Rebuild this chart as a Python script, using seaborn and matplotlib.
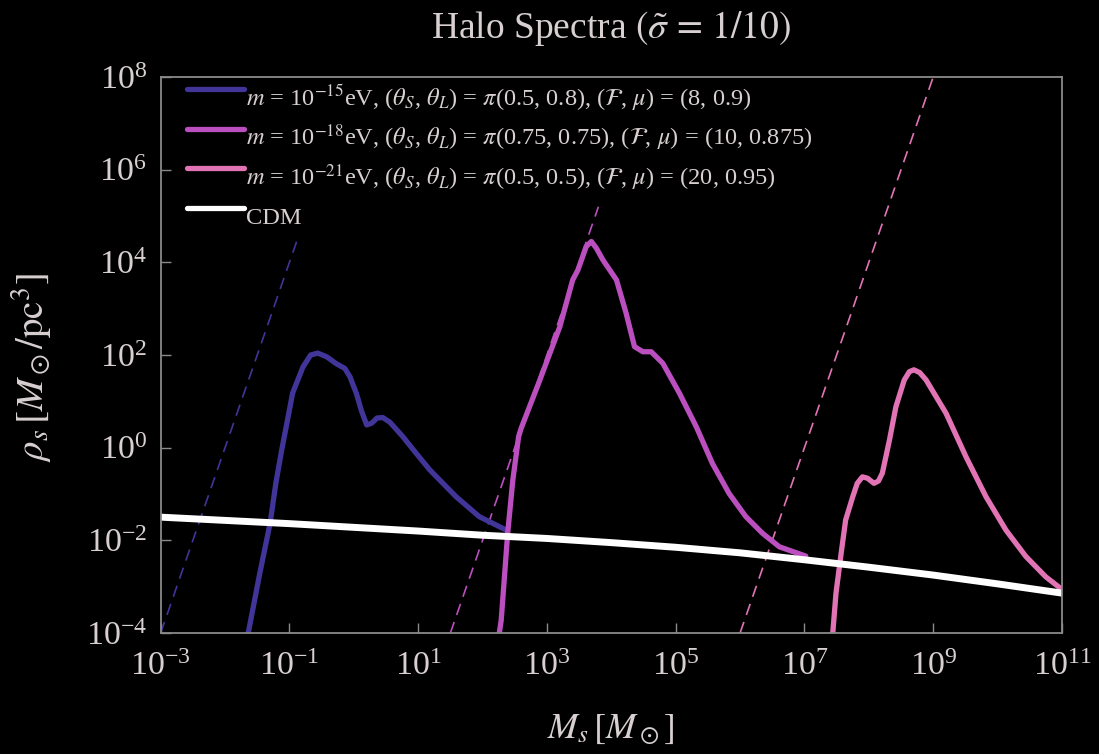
import numpy as np
import matplotlib
matplotlib.use("Agg")
import matplotlib.pyplot as plt
import matplotlib.transforms as mtransforms
import seaborn as sns
from matplotlib.lines import Line2D
from matplotlib.ticker import FixedLocator, NullLocator, LogFormatterSciNotation

# ---- data: log10 halo mass [M_sun] and log10 scale density [M_sun / pc^3] ----
cdm_logM = [-3, -2, -1, 0, 1, 2, 3, 4, 5, 6, 7, 8, 9, 10, 11]
cdm_logrho = [-1.50, -1.57, -1.64, -1.72, -1.80, -1.89, -1.96, -2.05, -2.15,
              -2.27, -2.42, -2.58, -2.75, -2.94, -3.14]

m15_logM = [-1.68, -1.64, -1.46, -1.30, -1.21, -1.12, -1.06, -0.95, -0.79,
            -0.67, -0.56, -0.42, -0.27, -0.14, -0.06, 0.04, 0.12, 0.20, 0.28,
            0.36, 0.45, 0.56, 0.76, 0.95, 1.18, 1.59, 1.95, 2.37]
m15_logrho = [-4.3, -4.0, -2.71, -1.63, -0.76, -0.05, 0.38, 1.18, 1.74,
              2.00, 2.04, 1.96, 1.81, 1.71, 1.53, 1.17, 0.79, 0.49, 0.53,
              0.64, 0.65, 0.55, 0.24, -0.09, -0.48, -1.06, -1.49, -1.78]

m18_logM = [2.20, 2.26, 2.29, 2.39, 2.47, 2.56, 2.60, 2.89, 3.20, 3.40, 3.48,
            3.61, 3.69, 3.77, 3.87, 4.08, 4.23, 4.36, 4.49, 4.62, 4.80, 5.06,
            5.32, 5.57, 5.83, 6.09, 6.35, 6.61, 7.02]
m18_logrho = [-4.3, -4.0, -3.72, -1.85, -0.70, 0.24, 0.42, 1.46, 2.61, 3.62,
              3.83, 4.34, 4.45, 4.30, 4.05, 3.62, 2.90, 2.18, 2.07, 2.07, 1.82,
              1.17, 0.45, -0.34, -0.99, -1.49, -1.85, -2.14, -2.34]

m21_logM = [7.42, 7.44, 7.49, 7.57, 7.64, 7.75, 7.82, 7.90, 7.98, 8.08, 8.15,
            8.21, 8.32, 8.42, 8.55, 8.63, 8.70, 8.79, 8.89, 9.20, 9.51, 9.82,
            10.13, 10.44, 10.75, 11.0]
m21_logrho = [-4.3, -4.0, -3.14, -2.28, -1.56, -1.06, -0.77, -0.63, -0.66,
              -0.77, -0.72, -0.55, 0.16, 0.88, 1.46, 1.64, 1.68, 1.62, 1.46,
              0.74, -0.20, -1.06, -1.78, -2.35, -2.79, -3.06]

# asymptotic M^4 branches (end points)
m15_asym_logM, m15_asym_logrho = [-3.0, -0.87], [-4.0, 4.52]
m18_asym_logM, m18_asym_logrho = [1.50, 3.80], [-4.0, 5.20]
m21_asym_logM, m21_asym_logrho = [6.00, 9.00], [-4.0, 8.00]

labels = [
    r"$m$ = 10$^{-15}$eV, ($\theta_S$, $\theta_L$) = $\pi$(0.5, 0.8), ($\mathcal{F}$, $\mu$) = (8, 0.9)",
    r"$m$ = 10$^{-18}$eV, ($\theta_S$, $\theta_L$) = $\pi$(0.75, 0.75), ($\mathcal{F}$, $\mu$) = (10, 0.875)",
    r"$m$ = 10$^{-21}$eV, ($\theta_S$, $\theta_L$) = $\pi$(0.5, 0.5), ($\mathcal{F}$, $\mu$) = (20, 0.95)",
    "CDM",
]

# ---- style ----
C15, C18, C21, CCDM = "#41359a", "#bc4fbf", "#e274b6", "#ffffff"
TXT = "#d8d0d0"
SPINE = "#8a8a8a"

sns.set_theme(style="white")
plt.rcParams.update({
    "font.family": ["Liberation Serif", "DejaVu Serif"],
    "mathtext.fontset": "stix",
    "figure.facecolor": "black",
    "axes.facecolor": "black",
    "savefig.facecolor": "black",
    "text.color": TXT,
    "axes.labelcolor": TXT,
    "xtick.labelcolor": TXT,
    "ytick.labelcolor": TXT,
})

fig = plt.figure(figsize=(10.99, 7.54), dpi=100)
ax = fig.add_axes([0.1462, 0.1605, 0.8201, 0.7374])
ax.set_xscale("log")
ax.set_yscale("log")


def line(logm, logrho, color, **kw):
    sns.lineplot(x=10.0 ** np.asarray(logm), y=10.0 ** np.asarray(logrho),
                 ax=ax, color=color, errorbar=None, legend=False, **kw)


dash = (0, (7, 4.5))
line(m15_asym_logM, m15_asym_logrho, C15, lw=1.2, linestyle=dash)
line(m18_asym_logM, m18_asym_logrho, C18, lw=1.2, linestyle=dash)
line(m21_asym_logM, m21_asym_logrho, C21, lw=1.2, linestyle=dash)

line(m15_logM, m15_logrho, C15, lw=3.8, solid_capstyle="round", solid_joinstyle="round")
line(m18_logM, m18_logrho, C18, lw=3.8, solid_capstyle="round", solid_joinstyle="round")
line(m21_logM, m21_logrho, C21, lw=3.8, solid_capstyle="round", solid_joinstyle="round")
line(cdm_logM, cdm_logrho, CCDM, lw=5.0)

ax.set_xlim(1e-3, 1e11)
ax.set_ylim(1e-4, 1e8)
ax.xaxis.set_major_locator(FixedLocator(10.0 ** np.arange(-3, 12, 2)))
ax.yaxis.set_major_locator(FixedLocator(10.0 ** np.arange(-4, 9, 2)))
ax.xaxis.set_minor_locator(NullLocator())
ax.yaxis.set_minor_locator(NullLocator())
ax.xaxis.set_major_formatter(LogFormatterSciNotation())
ax.yaxis.set_major_formatter(LogFormatterSciNotation())
ax.tick_params(which="major", direction="in", length=7, width=1.0, color=SPINE,
               labelsize=24.5, top=False, right=False, bottom=True, left=True)
ax.tick_params(axis="x", pad=13)
ax.tick_params(axis="y", pad=10)
for s in ax.spines.values():
    s.set_color(SPINE)
    s.set_linewidth(1.3)

ax.set_xlabel(r"$M_s\,[M_\odot]$", fontsize=26, labelpad=22)
ax.set_ylabel(r"$\rho_s\,[M_\odot/\mathrm{pc}^3]$", fontsize=28, labelpad=20)
ax.yaxis.set_label_coords(-0.118, 0.478)
ax.set_title(r"Halo Spectra $(\tilde{\sigma}\,=\,1/10)$", fontsize=27, pad=28, color=TXT)

handles = [Line2D([], [], color=c, lw=3.8) for c in (C15, C18, C21, CCDM)]
leg = ax.legend(handles, labels, loc="upper left", bbox_to_anchor=(0.029, 1.003),
                frameon=False, fontsize=17.6, handlelength=2.32, handletextpad=0.1,
                handleheight=2.11, labelspacing=0.0, borderaxespad=0, borderpad=0,
                labelcolor=TXT)
# labels sit a little below their line samples
shift = mtransforms.ScaledTranslation(0, -3 / 100, fig.dpi_scale_trans)
for t in leg.get_texts():
    t.set_transform(t.get_transform() + shift)

fig.savefig("out.png", dpi=100)
